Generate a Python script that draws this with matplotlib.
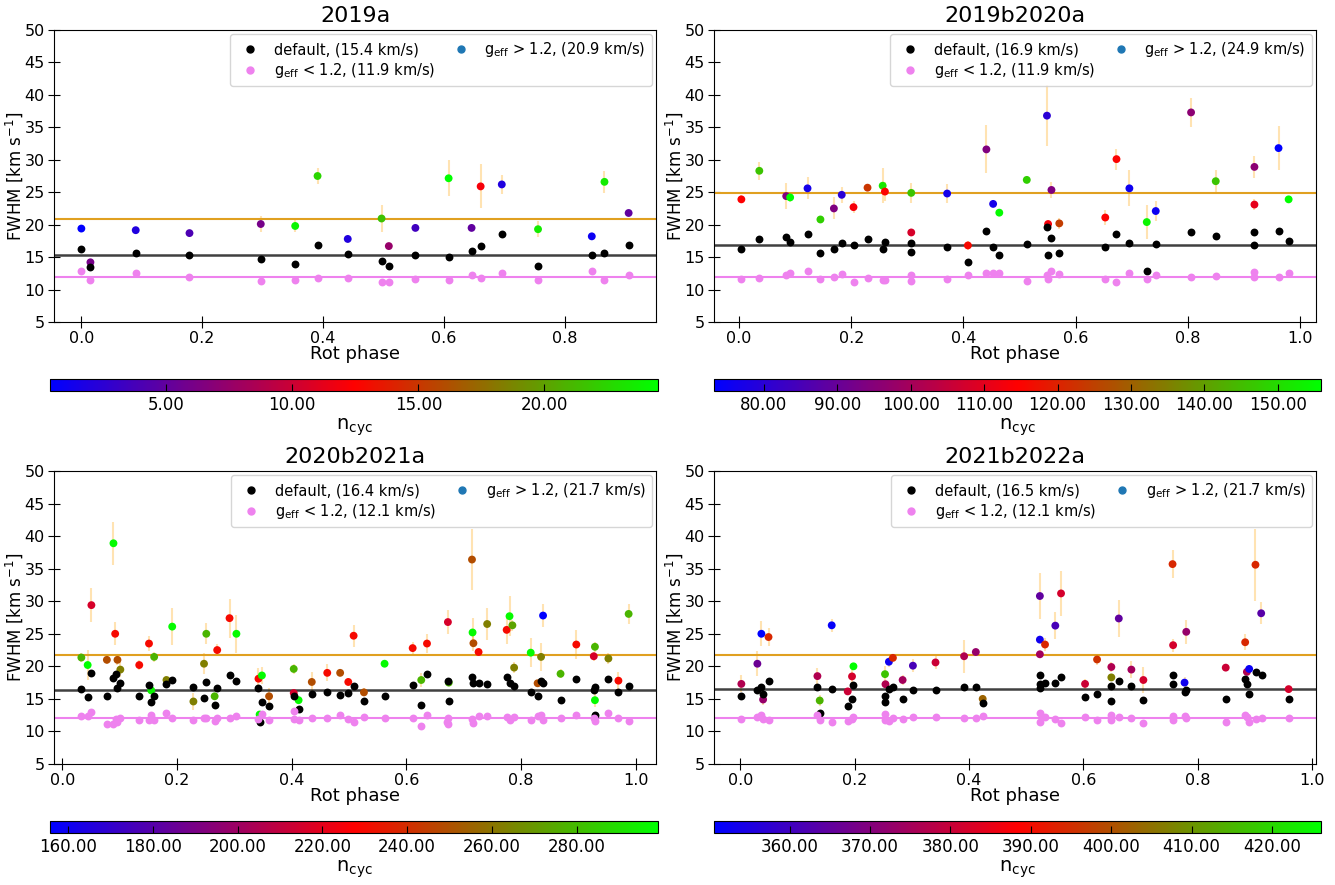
import numpy as np
import matplotlib
matplotlib.use('Agg')
import matplotlib.pyplot as plt
from matplotlib.colors import LinearSegmentedColormap
from matplotlib.lines import Line2D
from matplotlib.ticker import FormatStrFormatter

titles = ['2019a', '2019b2020a', '2020b2021a', '2021b2022a']

# mean FWHM per group (default, g_eff<1.2, g_eff>1.2), as in the legends
mean_def = [15.4, 16.9, 16.4, 16.5]
mean_low = [11.9, 11.9, 12.1, 12.1]
mean_high = [20.9, 24.9, 21.7, 21.7]

# ---- 2019a ----
p1_def = [(0.000, 16.3), (0.015, 13.5), (0.090, 15.6), (0.179, 15.26), (0.297, 14.7), (0.354, 13.9),
          (0.391, 16.9), (0.441, 15.5), (0.497, 14.4), (0.509, 13.7), (0.553, 15.4), (0.608, 15.0),
          (0.646, 16.0), (0.661, 16.7), (0.696, 18.5), (0.756, 13.6), (0.845, 15.26), (0.866, 15.7),
          (0.906, 16.9)]
p1_low = [(0.000, 12.85), (0.015, 11.46), (0.090, 12.6), (0.179, 11.9), (0.297, 11.26), (0.354, 11.46),
          (0.391, 11.8), (0.441, 11.8), (0.497, 11.15), (0.509, 11.15), (0.553, 11.7), (0.608, 11.4),
          (0.646, 12.3), (0.661, 11.8), (0.696, 12.6), (0.756, 11.46), (0.845, 12.8), (0.866, 11.5),
          (0.906, 12.2)]
# (phase, fwhm, err, n_cyc)
p1_high = [(0.000, 19.4, 0.3, 0.4), (0.015, 14.2, 0.3, 6.0), (0.090, 19.15, 0.4, 2.0),
           (0.179, 18.7, 0.3, 4.0), (0.297, 20.1, 1.3, 6.0), (0.354, 19.8, 1.0, 24.0),
           (0.391, 27.5, 1.3, 22.5), (0.441, 17.8, 0.6, 2.0), (0.497, 20.95, 2.1, 21.5),
           (0.509, 16.7, 0.5, 7.5), (0.553, 19.5, 0.3, 3.5), (0.608, 27.15, 2.8, 24.5),
           (0.646, 19.5, 0.3, 5.0), (0.661, 25.9, 3.4, 12.0), (0.696, 26.2, 1.4, 2.0),
           (0.756, 19.3, 1.2, 23.5), (0.845, 18.2, 0.3, 1.0), (0.866, 26.6, 1.7, 23.5),
           (0.906, 21.8, 0.5, 5.0)]

# ---- 2019b2020a ----
p2_def = [(0.004, 16.2), (0.036, 17.8), (0.084, 18.1), (0.091, 17.4), (0.122, 18.5), (0.145, 15.7),
          (0.169, 16.2), (0.183, 17.25), (0.204, 16.8), (0.229, 17.8), (0.256, 16.2), (0.260, 17.4),
          (0.307, 17.1), (0.307, 15.75), (0.371, 16.6), (0.408, 14.3), (0.441, 19.0), (0.453, 16.6),
          (0.464, 15.3), (0.513, 17.0), (0.549, 19.6), (0.557, 18.0), (0.551, 15.4), (0.571, 15.6),
          (0.653, 16.6), (0.673, 18.6), (0.696, 17.25), (0.727, 12.9), (0.743, 17.0), (0.806, 18.8),
          (0.850, 18.3), (0.919, 18.8), (0.919, 16.8), (0.962, 19.1), (0.980, 17.45)]
p2_low = [(0.004, 11.55), (0.036, 11.76), (0.084, 12.2), (0.091, 12.5), (0.122, 12.9), (0.145, 11.55),
          (0.169, 11.9), (0.183, 12.4), (0.204, 11.2), (0.229, 11.8), (0.256, 11.4), (0.260, 11.5),
          (0.307, 12.3), (0.307, 11.35), (0.371, 11.7), (0.408, 12.2), (0.441, 12.5), (0.453, 12.5),
          (0.464, 12.5), (0.513, 11.3), (0.549, 12.3), (0.557, 12.9), (0.551, 11.6), (0.571, 12.4),
          (0.653, 11.7), (0.673, 11.1), (0.696, 12.5), (0.727, 11.6), (0.743, 12.2), (0.806, 12.0),
          (0.850, 12.1), (0.919, 12.7), (0.919, 11.9), (0.962, 11.9), (0.980, 12.5)]
p2_high = [(0.004, 23.9, 0.6, 114.5), (0.036, 28.3, 1.4, 146.0), (0.084, 24.4, 2.0, 94.0),
           (0.091, 24.2, 0.7, 155.9), (0.122, 25.6, 1.7, 77.0), (0.145, 20.8, 0.5, 148.0),
           (0.169, 22.5, 1.7, 94.0), (0.183, 24.6, 1.2, 80.0), (0.204, 22.7, 0.9, 113.0),
           (0.229, 25.7, 0.4, 123.0), (0.256, 26.0, 2.7, 152.0), (0.260, 25.1, 1.5, 115.0),
           (0.307, 24.9, 1.5, 146.0), (0.307, 18.8, 0.4, 108.0), (0.371, 24.8, 1.4, 77.0),
           (0.408, 16.8, 0.7, 116.0), (0.441, 31.6, 3.7, 94.0), (0.453, 23.2, 0.5, 77.0),
           (0.464, 21.85, 0.4, 155.0), (0.513, 26.9, 0.3, 148.0), (0.549, 36.8, 4.7, 80.0),
           (0.557, 25.35, 1.3, 94.0), (0.551, 20.1, 0.4, 113.0), (0.571, 20.2, 0.8, 124.5),
           (0.653, 21.1, 1.2, 115.0), (0.673, 30.1, 1.6, 115.0), (0.696, 25.6, 2.8, 75.7),
           (0.727, 20.4, 2.6, 154.0), (0.743, 22.1, 1.6, 75.7), (0.806, 37.3, 2.2, 96.0),
           (0.850, 26.7, 1.8, 146.0), (0.919, 28.9, 1.7, 96.0), (0.919, 23.1, 0.9, 110.5),
           (0.962, 31.8, 3.4, 73.2), (0.980, 23.9, 0.4, 155.9)]

# ---- 2020b2021a ----
p3_def = [(0.033, 16.5), (0.044, 15.3), (0.0505, 19.05), (0.089, 18.2), (0.093, 18.8), (0.0775, 15.5),
          (0.096, 16.6), (0.101, 17.4), (0.134, 15.4), (0.151, 17.1), (0.155, 14.55), (0.160, 15.5),
          (0.1815, 17.3), (0.1915, 17.9), (0.2285, 16.75), (0.247, 15.2), (0.251, 17.6), (0.2655, 14.0),
          (0.27, 16.6), (0.2915, 18.7), (0.3035, 17.7), (0.342, 16.6), (0.348, 14.5), (0.344, 11.4),
          (0.3605, 13.9), (0.4035, 15.4), (0.412, 13.4), (0.435, 15.8), (0.462, 16.1), (0.4845, 15.6),
          (0.4987, 15.9), (0.508, 17.0), (0.526, 14.65), (0.562, 15.4), (0.611, 17.2), (0.636, 18.8),
          (0.626, 14.0), (0.6725, 17.8), (0.674, 14.7), (0.7145, 18.4), (0.717, 17.4), (0.726, 17.4),
          (0.741, 17.3), (0.775, 18.4), (0.78, 17.4), (0.788, 17.0), (0.817, 16.0), (0.835, 17.7),
          (0.8385, 17.4), (0.829, 15.5), (0.869, 14.8), (0.8965, 18.1), (0.929, 16.75), (0.927, 16.4),
          (0.929, 12.55), (0.9525, 18.1), (0.97, 16.1), (0.9878, 17.0)]
p3_low = [(0.033, 12.4), (0.044, 12.4), (0.0505, 12.95), (0.089, 11.1), (0.0775, 11.2), (0.093, 11.9),
          (0.096, 11.5), (0.101, 12.0), (0.134, 11.8), (0.151, 11.8), (0.155, 12.6), (0.160, 11.8),
          (0.1815, 12.8), (0.1915, 12.0), (0.2285, 11.7), (0.247, 12.0), (0.251, 12.0), (0.2655, 11.6),
          (0.27, 12.0), (0.2915, 12.1), (0.3035, 12.35), (0.342, 11.9), (0.348, 12.7), (0.3605, 11.7),
          (0.4035, 13.2), (0.4035, 11.9), (0.412, 11.8), (0.435, 12.0), (0.462, 12.0), (0.4845, 12.6),
          (0.4987, 11.9), (0.508, 11.4), (0.526, 12.15), (0.562, 12.05), (0.611, 12.0), (0.636, 12.45),
          (0.626, 10.8), (0.6725, 12.0), (0.6725, 11.2), (0.671, 11.4), (0.7145, 11.9), (0.717, 11.3),
          (0.726, 12.3), (0.741, 12.35), (0.775, 12.2), (0.78, 11.8), (0.788, 12.2), (0.817, 11.7),
          (0.829, 12.4), (0.835, 12.55), (0.8385, 11.8), (0.869, 12.05), (0.8965, 12.6), (0.927, 12.05),
          (0.929, 11.6), (0.9525, 12.9), (0.97, 12.05), (0.9878, 11.6)]
p3_high = [(0.033, 21.35, 0.7, 277.7), (0.044, 20.2, 2.3, 299.2), (0.0505, 29.4, 2.6, 216.0),
           (0.089, 38.9, 3.3, 298.0), (0.0775, 21.0, 0.6, 249.0), (0.092, 25.0, 1.8, 230.0),
           (0.096, 21.0, 0.8, 249.0), (0.101, 19.5, 1.2, 263.0), (0.134, 20.2, 0.7, 230.0),
           (0.151, 23.5, 1.1, 230.0), (0.155, 16.3, 0.5, 296.0), (0.160, 21.45, 0.8, 277.7),
           (0.1815, 17.9, 0.6, 263.0), (0.1915, 26.1, 2.8, 298.0), (0.2285, 14.6, 1.3, 263.0),
           (0.247, 20.4, 1.6, 263.0), (0.251, 25.0, 1.6, 278.0), (0.2655, 15.4, 0.4, 278.0),
           (0.27, 22.5, 0.9, 230.0), (0.2915, 27.4, 3.0, 230.0), (0.3035, 25.0, 2.9, 298.0),
           (0.342, 18.1, 1.6, 230.0), (0.348, 18.6, 1.3, 298.0), (0.344, 12.6, 0.3, 298.0),
           (0.3605, 15.4, 1.2, 249.0), (0.4035, 19.6, 0.8, 278.0), (0.4035, 15.9, 0.3, 216.0),
           (0.412, 14.8, 0.3, 298.0), (0.435, 17.6, 1.6, 249.0), (0.462, 19.0, 1.3, 230.0),
           (0.4845, 19.0, 0.5, 249.0), (0.4987, 17.6, 0.6, 230.0), (0.508, 24.7, 1.7, 230.0),
           (0.526, 16.0, 0.6, 249.0), (0.562, 20.4, 0.3, 298.0), (0.611, 22.8, 1.0, 230.0),
           (0.636, 23.5, 1.5, 230.0), (0.626, 17.9, 1.0, 278.0), (0.6725, 26.8, 1.9, 216.0),
           (0.674, 17.5, 0.3, 278.0), (0.7145, 36.4, 4.65, 249.0), (0.7155, 25.2, 2.3, 298.0),
           (0.717, 23.55, 1.2, 249.0), (0.726, 22.2, 0.6, 230.0), (0.741, 26.5, 2.5, 263.0),
           (0.775, 25.6, 2.2, 230.0), (0.78, 27.7, 3.1, 298.0), (0.785, 26.3, 0.8, 273.0),
           (0.788, 19.8, 0.8, 263.0), (0.817, 22.1, 2.2, 298.0), (0.835, 21.45, 2.2, 263.0),
           (0.829, 17.4, 0.5, 249.0), (0.8385, 27.8, 1.8, 155.7), (0.869, 18.85, 0.7, 278.0),
           (0.8965, 23.35, 2.2, 230.0), (0.929, 23.0, 0.8, 278.0), (0.927, 21.55, 0.7, 216.0),
           (0.929, 14.8, 1.1, 298.0), (0.9525, 21.2, 0.9, 263.0), (0.97, 17.8, 1.3, 230.0),
           (0.9878, 28.05, 1.6, 278.0)]

# ---- 2021b2022a ----
p4_def = [(0.002, 15.5), (0.030, 16.3), (0.037, 16.8), (0.040, 15.8), (0.0495, 17.7), (0.135, 16.75),
          (0.139, 12.8), (0.160, 16.5), (0.188, 13.85), (0.1955, 15.0), (0.198, 17.2), (0.2532, 15.4),
          (0.254, 14.5), (0.260, 16.5), (0.267, 16.75), (0.284, 15.05), (0.302, 16.4), (0.3415, 16.3),
          (0.3915, 16.85), (0.412, 16.9), (0.424, 14.35), (0.524, 18.7), (0.524, 17.3), (0.533, 17.4),
          (0.524, 16.6), (0.551, 17.4), (0.561, 18.4), (0.603, 15.3), (0.624, 15.7), (0.649, 17.0),
          (0.649, 14.75), (0.662, 17.8), (0.684, 17.0), (0.705, 14.9), (0.757, 18.6), (0.757, 17.25),
          (0.777, 16.05), (0.780, 16.35), (0.849, 15.05), (0.883, 18.0), (0.886, 17.25), (0.890, 15.8),
          (0.902, 19.15), (0.912, 18.7), (0.959, 14.95)]
p4_low = [(0.002, 11.9), (0.030, 12.2), (0.037, 12.55), (0.040, 11.95), (0.0495, 11.8), (0.135, 12.55),
          (0.139, 11.8), (0.160, 11.5), (0.188, 11.6), (0.1955, 11.9), (0.198, 12.25), (0.2532, 12.7),
          (0.254, 11.7), (0.260, 11.55), (0.267, 12.0), (0.284, 11.9), (0.302, 12.2), (0.3415, 12.25),
          (0.3915, 12.1), (0.412, 12.05), (0.424, 12.4), (0.524, 12.9), (0.524, 11.5), (0.533, 12.2),
          (0.551, 11.9), (0.561, 11.3), (0.603, 12.2), (0.624, 11.8), (0.649, 12.45), (0.649, 11.8),
          (0.662, 12.2), (0.684, 12.05), (0.705, 11.35), (0.757, 12.3), (0.757, 11.75), (0.777, 12.4),
          (0.780, 12.05), (0.849, 11.5), (0.883, 12.45), (0.886, 12.2), (0.890, 11.5), (0.902, 11.9),
          (0.912, 12.05), (0.959, 12.1)]
p4_high = [(0.002, 17.3, 1.3, 376.6), (0.030, 20.4, 1.9, 366.7), (0.037, 25.0, 1.9, 350.6),
           (0.040, 14.9, 0.8, 372.8), (0.0495, 24.5, 1.4, 394.0), (0.135, 18.5, 1.3, 376.6),
           (0.139, 14.75, 0.8, 414.7), (0.160, 26.3, 1.0, 351.5), (0.188, 16.15, 0.3, 380.4),
           (0.1955, 18.45, 1.3, 382.0), (0.198, 20.0, 0.3, 426.1), (0.2532, 18.8, 1.2, 417.0),
           (0.254, 17.25, 0.3, 376.6), (0.260, 20.7, 0.8, 353.0), (0.267, 21.3, 0.5, 394.0),
           (0.284, 17.9, 0.8, 375.0), (0.302, 20.1, 1.0, 361.4), (0.3415, 20.6, 1.0, 380.4),
           (0.3915, 21.55, 2.5, 376.6), (0.412, 22.2, 0.3, 372.8), (0.424, 15.0, 0.6, 403.0),
           (0.524, 30.8, 3.5, 365.0), (0.524, 24.1, 0.4, 353.0), (0.533, 23.35, 1.0, 394.0),
           (0.524, 21.85, 0.4, 375.0), (0.551, 26.25, 2.1, 361.4), (0.561, 31.2, 3.5, 382.0),
           (0.603, 17.3, 0.8, 380.4), (0.624, 21.05, 0.8, 395.7), (0.649, 19.9, 0.8, 376.6),
           (0.649, 18.3, 0.3, 407.0), (0.662, 27.35, 2.8, 365.0), (0.684, 19.5, 1.3, 375.0),
           (0.705, 17.9, 2.0, 382.0), (0.757, 23.25, 1.0, 382.0), (0.756, 35.7, 2.2, 394.0),
           (0.780, 25.3, 1.85, 372.8), (0.777, 17.5, 0.8, 353.0), (0.849, 19.8, 0.3, 380.4),
           (0.883, 23.7, 1.2, 394.0), (0.886, 19.15, 0.3, 376.6), (0.890, 19.6, 0.5, 352.3),
           (0.901, 35.6, 5.5, 394.0), (0.911, 28.15, 1.7, 363.7), (0.959, 16.5, 0.3, 382.0)]

panels = [(p1_def, p1_low, p1_high), (p2_def, p2_low, p2_high),
          (p3_def, p3_low, p3_high), (p4_def, p4_low, p4_high)]

cmap = LinearSegmentedColormap.from_list('bluredgreen', ['blue', 'red', 'lime'])

W, H = 1335, 885
fig = plt.figure(figsize=(W / 100, H / 100), dpi=100)


def frac(x0, y0, x1, y1):
    # pixel box -> figure fraction [left, bottom, width, height]
    return [x0 / W, 1 - y1 / H, (x1 - x0) / W, (y1 - y0) / H]


ax_boxes = [frac(54, 30, 656, 322), frac(714, 30, 1316, 322),
            frac(54, 471, 656, 764), frac(714, 471, 1316, 764)]
cb_boxes = [frac(50, 379, 658, 391), frac(714, 379, 1321, 391),
            frac(50, 821, 658, 833), frac(714, 821, 1321, 833)]

for i, (dflt, low, high) in enumerate(panels):
    ax = fig.add_axes(ax_boxes[i])
    d = np.array(dflt)
    lo = np.array(low)
    hi = np.array(high)

    ax.errorbar(hi[:, 0], hi[:, 1], yerr=hi[:, 2], fmt='none', ecolor='orange',
                alpha=0.3, elinewidth=1.5, zorder=1)
    sc = ax.scatter(hi[:, 0], hi[:, 1], c=hi[:, 3], cmap=cmap, s=32, zorder=3, linewidths=0)
    ax.scatter(d[:, 0], d[:, 1], c='k', s=32, zorder=3, linewidths=0)
    ax.scatter(lo[:, 0], lo[:, 1], c='violet', s=32, zorder=3, linewidths=0)

    ax.axhline(mean_high[i], color='#e0a020', lw=1.5, zorder=2)
    ax.axhline(mean_def[i], color='k', lw=1.8, alpha=0.75, zorder=2)
    ax.axhline(mean_low[i], color='violet', lw=1.5, zorder=2)

    ax.set_ylim(5, 50)
    ax.set_yticks(np.arange(5, 51, 5))
    ax.tick_params(direction='inout', length=9, labelsize=11.5, pad=2)
    ax.set_title(titles[i], fontsize=16)
    ax.set_xlabel('Rot phase', fontsize=13, labelpad=-1)
    ax.set_ylabel(r'FWHM [km s$^{-1}$]', fontsize=12, labelpad=0)

    handles = [
        Line2D([], [], marker='o', ls='none', color='k', markersize=5,
               label='default, (%.1f km/s)' % mean_def[i]),
        Line2D([], [], marker='o', ls='none', color='violet', markersize=5,
               label=r'g$_{\rm eff}$ < 1.2, (%.1f km/s)' % mean_low[i]),
        Line2D([], [], marker='o', ls='none', color='C0', markersize=5,
               label=r'g$_{\rm eff}$ > 1.2, (%.1f km/s)' % mean_high[i]),
    ]
    ax.legend(handles=handles, loc='upper right', ncol=2, fontsize=10.5,
              handletextpad=0.6, columnspacing=0.8, borderaxespad=0.3,
              labelspacing=0.25)

    cax = fig.add_axes(cb_boxes[i])
    cb = fig.colorbar(sc, cax=cax, orientation='horizontal')
    cb.ax.xaxis.set_major_formatter(FormatStrFormatter('%.2f'))
    cb.ax.tick_params(direction='in', length=5, labelsize=12)
    cb.set_label(r'n$_{\rm cyc}$', fontsize=14, labelpad=2)

fig.savefig('out.png', dpi=100)
